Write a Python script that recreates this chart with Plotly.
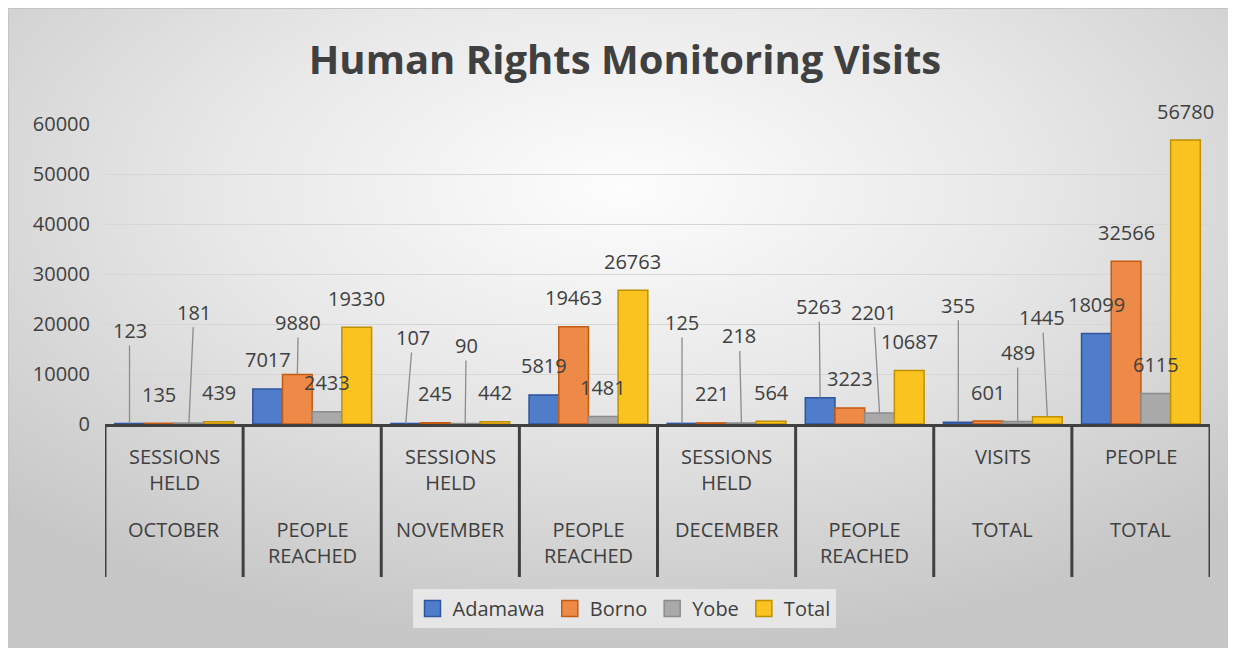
import base64
import plotly.graph_objects as go

# ---------------- data ----------------
cat_upper = ["SESSIONS HELD", "", "SESSIONS HELD", "", "SESSIONS HELD", "", "VISITS", "PEOPLE"]
cat_lower = ["OCTOBER", "PEOPLE REACHED", "NOVEMBER", "PEOPLE REACHED", "DECEMBER",
             "PEOPLE REACHED", "TOTAL", "TOTAL"]
series_names = ["Adamawa", "Borno", "Yobe", "Total"]
adamawa = [123, 7017, 107, 5819, 125, 5263, 355, 18099]
borno = [135, 9880, 245, 19463, 221, 3223, 601, 32566]
yobe = [181, 2433, 90, 1481, 218, 2201, 489, 6115]
total = [439, 19330, 442, 26763, 564, 10687, 1445, 56780]
y_ticks = [0, 10000, 20000, 30000, 40000, 50000, 60000]
title_text = "Human Rights Monitoring Visits"

# ---------------- style ----------------
FONT = "Open Sans"
TXT = "#404040"
FS = 20
fills = ["#4F7DC9", "#ED8A47", "#A9A9A9", "#FBC31F"]
edges = ["#2F54A0", "#C55A11", "#8C8C8C", "#BF9000"]
BARGAP = 0.14
# the page body adds an 8px margin, so the figure starts at (8, 8)
OFF = 8
W, H = 1236 - OFF, 648 - OFF
L, R, T, B = 105 - OFF, 26, 124 - OFF, 224
PW, PH = W - L - R, H - T - B
PLOT_BOTTOM = T + PH + OFF  # in page pixels


def py(p):  # page pixel y -> paper y
    return (PLOT_BOTTOM - p) / PH


def px(p):  # page pixel x -> paper x
    return (p - (L + OFF)) / PW


# label offsets (px) relative to bar top: (dx, dy, leader line)
label_default = (0, -29, False)
label_style = {
    (0, 0): (0, -93, True), (2, 0): (5, -111, True),
    (1, 1): (1, -52, True),
    (0, 2): (7, -86, True), (2, 2): (1, -78, True),
    (0, 4): (0, -101, True), (2, 4): (-2, -87, True),
    (0, 5): (-1, -91, True), (2, 5): (-6, -101, True),
    (0, 6): (0, -117, True), (2, 6): (0, -69, True), (3, 6): (-5, -99, True),
}

series_vals = [adamawa, borno, yobe, total]
xs = list(range(len(cat_lower)))

fig = go.Figure()
for j, (name, vals) in enumerate(zip(series_names, series_vals)):
    fig.add_trace(go.Bar(
        x=xs, y=vals, name=name, showlegend=False, legendgroup=name,
        marker=dict(color=fills[j], line=dict(color=edges[j], width=1.5)),
    ))
# legend entries with larger square swatches
for j, name in enumerate(series_names):
    fig.add_trace(go.Scatter(
        x=[None], y=[None], mode="markers", name=name, legendgroup=name,
        marker=dict(symbol="square", size=16, color=fills[j],
                    line=dict(color=edges[j], width=1.5)),
    ))

annotations = []
bw = (1 - BARGAP) / len(series_names)
for j, vals in enumerate(series_vals):
    for i, v in enumerate(vals):
        dx, dy, leader = label_style.get((j, i), label_default)
        annotations.append(dict(
            x=i + (j - 1.5) * bw, y=v, xref="x", yref="y",
            text=str(v), showarrow=True, ax=dx, ay=dy, axref="pixel", ayref="pixel",
            arrowhead=0, standoff=0, arrowwidth=1.3,
            arrowcolor="#8C8C8C" if leader else "rgba(0,0,0,0)",
            font=dict(family=FONT, size=FS, color=TXT),
        ))

# category labels (two rows)
for i in xs:
    if cat_upper[i]:
        annotations.append(dict(
            x=i, y=py(441), xref="x", yref="paper",
            text=cat_upper[i].replace(" ", "<br>"), showarrow=False,
            yanchor="top", xanchor="center", align="center",
            font=dict(family=FONT, size=FS, color=TXT),
        ))
    annotations.append(dict(
        x=i, y=py(514), xref="x", yref="paper",
        text=cat_lower[i].replace(" ", "<br>"), showarrow=False,
        yanchor="top", xanchor="center", align="center",
        font=dict(family=FONT, size=FS, color=TXT),
    ))

shapes = []
for i in range(len(cat_lower) + 1):
    shapes.append(dict(type="line", xref="x", yref="paper", x0=i - 0.5, x1=i - 0.5,
                       y0=0, y1=py(577), line=dict(color=TXT, width=3)))

svg = ('<svg xmlns="http://www.w3.org/2000/svg" width="1228" height="640" '
       'preserveAspectRatio="none">'
       '<defs><radialGradient id="g" cx="50%" cy="28%" r="72%">'
       '<stop offset="0" stop-color="#fdfdfd"/>'
       '<stop offset="0.45" stop-color="#e8e8e8"/>'
       '<stop offset="1" stop-color="#c6c6c6"/>'
       '</radialGradient></defs>'
       '<rect width="1228" height="640" fill="url(#g)"/>'
       '<line x1="0" y1="0.5" x2="1228" y2="0.5" stroke="#c4c4c4" stroke-width="1"/>'
       '<line x1="0.5" y1="0" x2="0.5" y2="640" stroke="#c4c4c4" stroke-width="1"/>'
       '</svg>')
src = "data:image/svg+xml;base64," + base64.b64encode(svg.encode()).decode()

fig.update_layout(
    width=W, height=H,
    margin=dict(l=L, r=R, t=T, b=B, autoexpand=False),
    paper_bgcolor="white", plot_bgcolor="rgba(0,0,0,0)",
    barmode="group", bargap=BARGAP, bargroupgap=0,
    title=dict(text="<b>" + title_text + "</b>", x=px(625), xanchor="center", xref="paper",
               y=1 - (60 - OFF) / H, yanchor="middle", yref="container",
               font=dict(family=FONT, size=40, color=TXT)),
    xaxis=dict(range=[-0.5, len(cat_lower) - 0.5], showticklabels=False, ticks="",
               showgrid=False, zeroline=False, showline=True, linecolor=TXT, linewidth=3,
               fixedrange=True),
    yaxis=dict(range=[0, 60000], tickvals=y_ticks, ticktext=[str(v) for v in y_ticks],
               showgrid=True, gridcolor="#D6D6D6",
               gridwidth=1, zeroline=False, showline=False, ticks="",
               ticklabelstandoff=14,
               tickfont=dict(family=FONT, size=FS, color=TXT)),
    legend=dict(orientation="h", x=px(624), xanchor="center",
                y=py(589), yanchor="top", itemsizing="trace",
                bgcolor="rgba(242,242,242,0.7)",
                font=dict(family=FONT, size=FS, color=TXT),
                itemwidth=30, tracegroupgap=0),
    annotations=annotations,
    shapes=shapes,
    images=[dict(source=src, xref="paper", yref="paper",
                 x=px(OFF), y=py(OFF),
                 sizex=W / PW, sizey=H / PH,
                 xanchor="left", yanchor="top", sizing="stretch", layer="below")],
    showlegend=True,
)

fig.write_html("out.html")
